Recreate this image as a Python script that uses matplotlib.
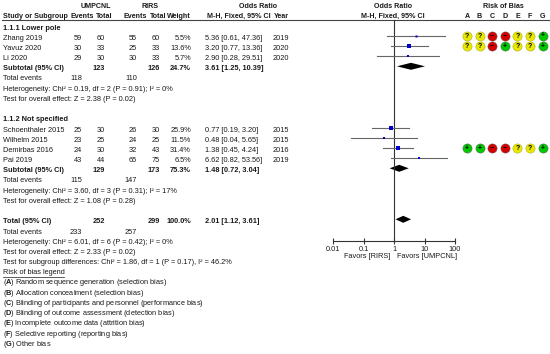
import matplotlib
matplotlib.use("Agg")
import matplotlib.pyplot as plt
from matplotlib.patches import Polygon
import numpy as np

plt.rcParams['font.family'] = ['Liberation Sans', 'DejaVu Sans']
plt.rcParams['mathtext.fontset'] = 'custom'
plt.rcParams['mathtext.rm'] = 'Liberation Sans'
plt.rcParams['mathtext.bf'] = 'Liberation Sans:bold'

# ---- data ----
studies = ["Zhang 2019", "Yavuz 2020", "Li 2020",
           "Schoenthaler 2015", "Wilhelm 2015", "Demirbas 2016", "Pai 2019"]
group = [0, 0, 0, 1, 1, 1, 1]
ev_u = [59, 30, 29, 25, 23, 24, 43]
tot_u = [60, 33, 30, 30, 25, 30, 44]
ev_r = [55, 25, 30, 26, 24, 32, 65]
tot_r = [60, 33, 33, 30, 25, 43, 75]
weight = [5.5, 13.6, 5.7, 25.9, 11.5, 31.4, 6.5]
odds = [5.36, 3.20, 2.90, 0.77, 0.48, 1.38, 6.62]
ci_lo = [0.61, 0.77, 0.28, 0.19, 0.04, 0.45, 0.82]
ci_hi = [47.36, 13.36, 29.51, 3.20, 5.65, 4.24, 53.56]
years = [2019, 2020, 2020, 2015, 2015, 2016, 2019]

group_names = ["1.1.1 Lower pole", "1.1.2 Not specified"]
sub_tot_u = [123, 129]
sub_tot_r = [126, 173]
sub_ev_u = [118, 115]
sub_ev_r = [110, 147]
sub_weight = [24.7, 75.3]
sub_or = [3.61, 1.48]
sub_lo = [1.25, 0.72]
sub_hi = [10.39, 3.04]

# subgroup 1, subgroup 2, overall
het_chi = [0.19, 3.60, 6.01]
het_df = [2, 3, 6]
het_p = [0.91, 0.31, 0.42]
het_i2 = [0, 17, 0]
z_val = [2.38, 1.08, 2.33]
z_p = [0.02, 0.28, 0.02]

all_tot_u, all_tot_r = 252, 299
all_ev_u, all_ev_r = 233, 257
all_or, all_lo, all_hi = 2.01, 1.12, 3.61

bias_letters = ["A", "B", "C", "D", "E", "F", "G"]
bias = {"Zhang 2019": "??--??+", "Yavuz 2020": "??-+??+", "Demirbas 2016": "++--??+"}
bias_legend = ["Random sequence generation (selection bias)",
               "Allocation concealment (selection bias)",
               "Blinding of participants and personnel (performance bias)",
               "Blinding of outcome assessment (detection bias)",
               "Incomplete outcome data (attrition bias)",
               "Selective reporting (reporting bias)",
               "Other bias"]

# ---- layout ----
W, H = 550, 354
fig = plt.figure(figsize=(W / 100, H / 100), dpi=100)
ax = fig.add_axes([0, 0, 1, 1])
ax.set_xlim(0, W)
ax.set_ylim(H, 0)
ax.axis('off')

fs = 5.35
hfs = 5.1  # column headers
tc = '#1a1a1a'
X_STUDY, X_EVU, X_TOTU, X_EVR, X_TOTR, X_W, X_OR, X_YR = 3, 82, 105, 137, 160, 191, 205, 273
PX0, PX1, AXIS_Y = 333, 455, 241

def row_y(r):
    return 28 + 10.2 * r

def txt(x, y, s, ha='left', bold=False, size=None, **kw):
    ax.text(x, y, s, ha=ha, va='center', fontsize=size or fs, color=tc,
            fontweight='bold' if bold else 'normal', **kw)

# headers
txt(96, 7, "UMPCNL", 'center', True, hfs)
txt(150, 7, "RIRS", 'center', True, hfs)
txt(258, 7, "Odds Ratio", 'center', True, hfs)
txt(393, 7, "Odds Ratio", 'center', True, hfs)
txt(503, 7, "Risk of Bias", 'center', True, hfs)
txt(X_STUDY, 16, "Study or Subgroup", 'left', True, hfs)
txt(82, 16, "Events", 'center', True, hfs)
txt(104, 16, "Total", 'center', True, hfs)
txt(135, 16, "Events", 'center', True, hfs)
txt(158, 16, "Total", 'center', True, hfs)
txt(179, 16, "Weight", 'center', True, hfs)
txt(239, 16, "M-H, Fixed, 95% CI", 'center', True, hfs)
txt(X_YR + 1, 16, "Year", 'left', True, hfs)
txt(393, 16, "M-H, Fixed, 95% CI", 'center', True, hfs)
bx = [467 + 12.6 * i for i in range(7)]
for x, l in zip(bx, bias_letters):
    txt(x, 16, l, 'center', True, hfs)
ax.plot([2, W], [19.8, 19.8], color='#444444', lw=0.8)

# forest axes (log odds ratio vs pixel rows)
fx = fig.add_axes([PX0 / W, (H - AXIS_Y) / H, (PX1 - PX0) / W, AXIS_Y / H])
fx.set_xscale('log')
fx.set_xlim(0.01, 100)
fx.set_ylim(AXIS_Y, 0)
fx.patch.set_alpha(0)
for s in ['top', 'left', 'right']:
    fx.spines[s].set_visible(False)
fx.spines['bottom'].set_color('#333333')
fx.spines['bottom'].set_linewidth(0.8)
fx.set_yticks([])
fx.set_xticks([0.01, 0.1, 1, 10, 100])
fx.set_xticklabels(["0.01", "0.1", "1", "10", "100"])
fx.xaxis.set_minor_locator(matplotlib.ticker.NullLocator())
fx.tick_params(axis='x', direction='inout', length=4, width=0.8, color='#333333',
               labelsize=fs, labelcolor=tc, pad=1.5)
fx.plot([1, 1], [20, AXIS_Y], color='#333333', lw=0.8)

def diamond(r, est, lo, hi):
    y = row_y(r) - 2.5
    fx.add_patch(Polygon([[lo, y], [est, y - 3.5], [hi, y], [est, y + 3.5]],
                         closed=True, color='black', lw=0))

# rows
rows_g = [[1, 2, 3], [10, 11, 12, 13]]
head_r = [0, 9]
for g in range(2):
    r0 = head_r[g]
    txt(X_STUDY, row_y(r0), group_names[g], bold=True)
    idx = [i for i in range(len(studies)) if group[i] == g]
    for r, i in zip(rows_g[g], idx):
        y = row_y(r)
        txt(X_STUDY, y, studies[i])
        txt(X_EVU, y, str(ev_u[i]), 'right')
        txt(X_TOTU, y, str(tot_u[i]), 'right')
        txt(X_EVR, y, str(ev_r[i]), 'right')
        txt(X_TOTR, y, str(tot_r[i]), 'right')
        txt(X_W, y, f"{weight[i]:.1f}%", 'right')
        txt(X_OR, y, f"{odds[i]:.2f} [{ci_lo[i]:.2f}, {ci_hi[i]:.2f}]")
        txt(X_YR, y, str(years[i]))
        ym = y - 2.5
        fx.plot([ci_lo[i], ci_hi[i]], [ym, ym], color='#666666', lw=0.8)
        side = max(1.6, 0.85 * np.sqrt(weight[i]))
        fx.plot([odds[i]], [ym], marker='s', ms=side * 0.72, color='#0000cc', mew=0)
        if studies[i] in bias:
            for x, c in zip(bx, bias[studies[i]]):
                col = {'?': '#e8e800', '-': '#d40000', '+': '#00c800'}[c]
                ax.scatter([x], [ym], s=44, color=col,
                           edgecolors='#999900' if c == '?' else '#555555',
                           linewidths=0.3, zorder=3)
                sym = {'?': '?', '-': '\u2212', '+': '+'}[c]
                ax.text(x, ym + 0.3, sym, ha='center', va='center', fontsize=5,
                        fontweight='bold', color='black', zorder=4)
    rs = rows_g[g][-1] + 1
    y = row_y(rs)
    txt(X_STUDY, y, "Subtotal (95% CI)", bold=True)
    txt(X_TOTU, y, str(sub_tot_u[g]), 'right', True)
    txt(X_TOTR, y, str(sub_tot_r[g]), 'right', True)
    txt(X_W, y, f"{sub_weight[g]:.1f}%", 'right', True)
    txt(X_OR, y, f"{sub_or[g]:.2f} [{sub_lo[g]:.2f}, {sub_hi[g]:.2f}]", bold=True)
    diamond(rs, sub_or[g], sub_lo[g], sub_hi[g])
    txt(X_STUDY, row_y(rs + 1), "Total events")
    txt(X_EVU, row_y(rs + 1), str(sub_ev_u[g]), 'right')
    txt(X_EVR, row_y(rs + 1), str(sub_ev_r[g]), 'right')
    txt(X_STUDY, row_y(rs + 2),
        f"Heterogeneity: Chi\u00b2 = {het_chi[g]:.2f}, df = {het_df[g]} (P = {het_p[g]:.2f}); I\u00b2 = {het_i2[g]}%")
    txt(X_STUDY, row_y(rs + 3), f"Test for overall effect: Z = {z_val[g]:.2f} (P = {z_p[g]:.2f})")

# overall
y = row_y(19)
txt(X_STUDY, y, "Total (95% CI)", bold=True)
txt(X_TOTU, y, str(all_tot_u), 'right', True)
txt(X_TOTR, y, str(all_tot_r), 'right', True)
txt(X_W, y, "100.0%", 'right', True)
txt(X_OR, y, f"{all_or:.2f} [{all_lo:.2f}, {all_hi:.2f}]", bold=True)
diamond(19, all_or, all_lo, all_hi)
txt(X_STUDY, row_y(20), "Total events")
txt(X_EVU, row_y(20), str(all_ev_u), 'right')
txt(X_EVR, row_y(20), str(all_ev_r), 'right')
txt(X_STUDY, row_y(21),
    f"Heterogeneity: Chi\u00b2 = {het_chi[2]:.2f}, df = {het_df[2]} (P = {het_p[2]:.2f}); I\u00b2 = {het_i2[2]}%")
txt(X_STUDY, row_y(22), f"Test for overall effect: Z = {z_val[2]:.2f} (P = {z_p[2]:.2f})")
txt(X_STUDY, row_y(23), "Test for subgroup differences: Chi\u00b2 = 1.86, df = 1 (P = 0.17), I\u00b2 = 46.2%")

# favours labels
txt(390, 257, "Favors [RIRS]", 'right')
txt(397, 257, "Favors [UMPCNL]", 'left')

# risk of bias legend
txt(X_STUDY, row_y(24), "Risk of bias legend")
ax.plot([X_STUDY, 64], [row_y(24) + 4, row_y(24) + 4], color=tc, lw=0.5)
for k, (l, s) in enumerate(zip(bias_letters, bias_legend)):
    txt(X_STUDY, row_y(25 + k), "($\\mathbf{" + l + "}$) " + s)

fig.savefig("out.png", dpi=100)
